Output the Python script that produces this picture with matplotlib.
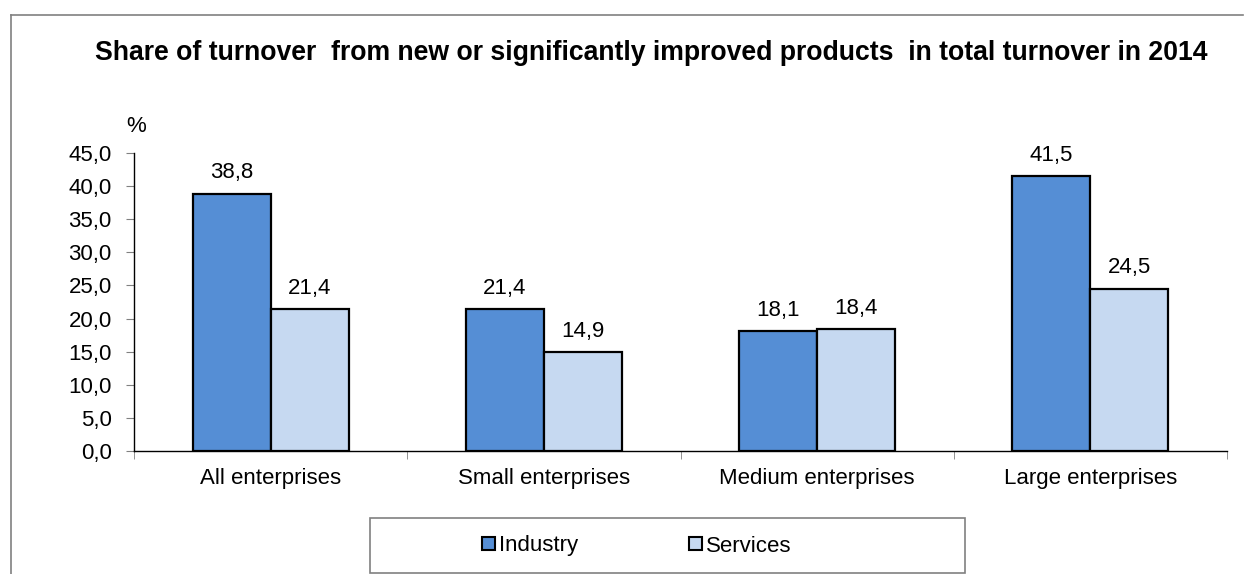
import numpy as np
import matplotlib.pyplot as plt
from matplotlib.lines import Line2D
from matplotlib.patches import Rectangle

plt.rcParams['font.family'] = ['Liberation Sans', 'DejaVu Sans']

categories = ["All enterprises", "Small enterprises", "Medium enterprises", "Large enterprises"]
industry = [38.8, 21.4, 18.1, 41.5]
services = [21.4, 14.9, 18.4, 24.5]
yticks = [0, 5, 10, 15, 20, 25, 30, 35, 40, 45]

W, H = 1244, 574
fig = plt.figure(figsize=(W / 100, H / 100), dpi=100)

# outer frame (left and top visible)
fig.add_artist(Line2D([11 / W, 11 / W], [0, 1 - 15 / H], color="#808080", lw=1.2))
fig.add_artist(Line2D([11 / W, 1243 / W], [1 - 15 / H, 1 - 15 / H], color="#808080", lw=1.2))

ax = fig.add_axes([134 / W, 1 - 451 / H, (1227 - 134) / W, (451 - 153) / H])

x = np.arange(len(categories))
bw = 0.285
b1 = ax.bar(x - bw / 2, industry, bw, color="#558ed5", edgecolor="black", lw=1.6, label="Industry")
b2 = ax.bar(x + bw / 2, services, bw, color="#c6d9f1", edgecolor="black", lw=1.6, label="Services")

for bars, vals in ((b1, industry), (b2, services)):
    for b, v in zip(bars, vals):
        ax.text(b.get_x() + b.get_width() / 2, v + 1.6, f"{v:.1f}".replace(".", ","),
                ha="center", va="bottom", fontsize=16)

ax.set_xlim(-0.5, len(categories) - 0.5)
ax.set_ylim(0, 45)
ax.set_yticks(yticks)
ax.set_yticklabels([f"{t:.1f}".replace(".", ",") for t in yticks], fontsize=16)
ax.set_xticks(x)
ax.set_xticklabels(categories, fontsize=16)
ax.tick_params(axis="x", length=0, pad=12)
ax.tick_params(axis="y", length=6, color="#808080", pad=10)
ax.set_xticks(np.arange(-0.5, len(categories), 1), minor=True)
ax.tick_params(axis="x", which="minor", length=6, color="#808080")
for s in ("top", "right"):
    ax.spines[s].set_visible(False)
ax.spines["left"].set_linewidth(1)
ax.spines["bottom"].set_linewidth(1)

fig.text(136 / W, 1 - 126 / H, "%", fontsize=16, ha="center", va="center")
fig.text(651 / W, 1 - 60 / H,
         "Share of turnover  from new or significantly improved products  in total turnover in 2014",
         fontsize=19.2, fontweight="bold", ha="center", va="baseline")

# legend box
fig.add_artist(Rectangle((370 / W, 1 - 573 / H), 595 / W, 55 / H, transform=fig.transFigure,
                         facecolor="none", edgecolor="#808080", lw=1.2))
leg = fig.legend(handles=[b1, b2], loc="center", bbox_to_anchor=(637 / W, 1 - 546 / H),
                 ncol=2, fontsize=16, frameon=False, handlelength=0.55,
                 handleheight=0.55, handletextpad=0.2, columnspacing=5.0, borderpad=0)
for p in leg.get_patches():
    p.set_linewidth(1.5)

fig.savefig("out.png", dpi=100)
